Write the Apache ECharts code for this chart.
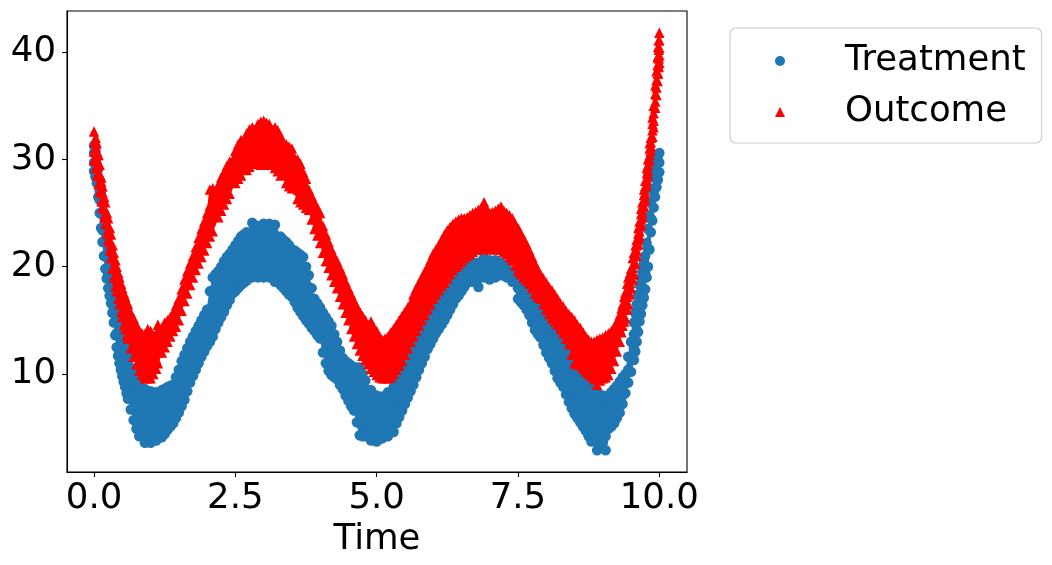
<!DOCTYPE html>
<html><head><meta charset="utf-8">
<style>html,body{margin:0;padding:0;background:#fff}#c{width:1052px;height:565px}</style>
<script src="https://cdn.jsdelivr.net/npm/echarts@6/dist/echarts.min.js"></script>
</head><body><div id="c"></div>
<script>
const xTicks = [0, 2.5, 5, 7.5, 10];
const yTicks = [10, 20, 30, 40];
const seriesNames = ['Treatment', 'Outcome'];
// each row: time, then the readings seen at that time
const treatmentRows = [
[0,28.9,29.7,30.6,31.3],[.05,27.8,28.6,29.5,30.2],[.1,25,26.2,27.1,28],[.15,22.3,23.4,24.8,26],[.2,19.8,21,22.4,24],
[.25,18,19.3,20.7,22],[.3,16.6,17.9,19.1,20],[.35,14.8,16,17.3,18.5],[.4,12.5,13.8,15.3,17],[.45,11,12.4,14,15.6],
[.5,9.8,11.1,12.9,14.5],[.55,8.8,10.1,11.9,13.5],[.6,7.7,9.1,10.8,12.5],[.7,5.7,6.8,8,9.3,10.5],[.8,4.2,5.3,6.4,7.6,8.3,9.2],
[.9,3.6,4.7,5.7,6.8,7.8,8.6],[1,3.6,4.4,5.3,6.3,7.4,8.4],[1.1,3.8,4.9,5.9,6.9,7.7,8.3],[1.2,4.1,5.2,6.1,7.1,7.9,8.5],[1.3,4.8,6,7.2,8,8.8],
[1.4,5.4,6.5,7.8,9],[1.5,6.4,7.6,9,10.4],[1.6,7.6,8.8,10.3,11.8],[1.7,9.2,10.5,12,13],[1.8,10.4,11.8,13,14],
[1.9,11.6,12.8,14,15],[2,12.6,13.8,15,16],[2.1,13.5,15,16.2,17.6,19],[2.2,14.8,16.1,17.3,18.6,19.6],[2.3,15.8,17,18.3,19.4,20.5],
[2.4,16.9,18,19.1,20.2,21.2],[2.5,17.7,18.9,20,21,22],[2.6,18.3,19.4,20.6,21.7,22.8],[2.7,18.7,19.9,21,22.1,23.2],[2.8,19,20.1,21.3,22.6,24.1],
[2.9,19,20.2,21.4,22.7,23.8],[3,19,20.1,21.3,22.6,24],[3.1,19,20.3,21.5,22.8,24],[3.2,18.6,19.8,21.1,22.5,23.9],[3.3,18.3,19.4,20.5,21.7,22.8],
[3.4,17.7,18.9,20,21.2,22.3],[3.5,17.2,18.4,19.5,20.5,21.6],[3.6,16.2,17.5,18.8,20,21.3],[3.7,15.4,16.8,18.1,19.6,20.9],[3.8,14.7,15.8,16.9,18.1,19.2],
[3.9,14,15,16,17],[4,13.3,14.2,15.2,16.2],[4.1,11,12.1,13.2,14.3,15.3],[4.2,9.9,11.1,12.2,13.4,14.5],[4.3,9.5,10.4,11.3,12.2,13],
[4.4,8.6,9.6,10.5,11.5],[4.5,7.5,8.4,9.3,10.2,11],[4.6,6.6,7.6,8.6,9.7,10.6],[4.7,4.3,5.4,6.6,7.7,8.9,10.6],[4.8,4.2,5.3,6.3,7.4,8.4,9.4],
[4.9,3.8,4.9,5.9,6.9,7.8,8.5],[5,3.7,4.6,5.5,6.4,7.3,8],[5.1,4,5,5.9,6.8,7.9],[5.2,4.2,5.1,6.2,7.2,8.3],[5.3,4.6,5.6,6.7,7.8,8.8],
[5.4,6,7,8,9,10],[5.5,7.2,8.1,9.1,10.1,11],[5.6,8.4,9.3,10.2,11.1,12],[5.7,9.7,10.5,11.4,12.2,13],[5.8,11,11.9,12.8,14],
[5.9,12.3,13.1,14,15],[6,13.3,14.4,15.5,16.5],[6.1,14.2,15.3,16.4,17.5],[6.2,15,16,17,18],[6.3,16,17,18,19],
[6.4,17,17.8,18.7,19.5],[6.5,17.7,18.5,19.3,20],[6.6,18.5,19.3,20.2],[6.7,18.6,19.5,20.4],[6.8,18.1,19.1,20.4],
[6.9,19,19.9,20.8],[7,18.8,19.7,20.6],[7.1,19,19.8,20.6],[7.2,19.2,20.4],[7.3,19,20],
[7.4,18.6,19.5],[7.5,17,18,19],[7.6,16.4,17.3,18.2],[7.7,15.5,16.6,17.8],[7.8,14.1,15.1,16.1,17],
[7.9,13.4,14.2,15.1,16],[8,12,13.1,14.3,15.5],[8.1,11,12.2,13.3,14.5],[8.2,9.6,10.7,11.8,12.8,13.8],[8.3,8.8,9.9,11,12,13],
[8.4,7.4,8.5,9.6,10.8,12],[8.5,6.3,7.4,8.4,9.5,10.5],[8.6,5.5,6.7,7.8,8.9,10],[8.7,4.7,5.8,6.9,8.2,9.5],[8.8,3.7,4.8,5.9,6.9,7.8,8.7],
[8.9,2.9,4,5,6.1,7.2,8.3],[9,3.6,4.6,5.6,6.7,8],[9.05,2.9,4.2,5.2,6.3,7.1,7.9],[9.1,4.9,5.9,7,8],[9.2,5.4,6.3,7.5,8.6],
[9.3,6.4,7.3,8.3,9.3],[9.35,7.2,8,8.9,9.7],[9.4,8.2,9.1,10],[9.45,9.2,10.4,11.6],[9.5,10.2,11.6,13],
[9.55,11.3,12.4,13.7,14.8],[9.6,13,14.1,15.4,16.5],[9.65,14.9,16.1,18.3],[9.7,16.4,18,19.6],[9.75,17.9,19.4,21],
[9.8,20,21.7,23.5],[9.85,23.2,24.5,26],[9.9,25.5,27,28.3],[9.95,27.4,28.7,30],[10,28.8,29.7,30.6]
];
// further edge readings (lowest, highest) between the columns above
const treatmentEdgeRows = [
[.025,28.4,30.8],[.075,26.5,29.1],[.125,23.6,27],[.175,21,25],[.225,18.9,23],[.275,17.3,21],[.325,15.7,19.2],[.375,13.6,17.7],[.425,11.7,16.3],[.475,10.4,15],[.525,9.3,14],[.575,8.2,13],
[.65,6.7,11.5],[.75,4.9,9.8],[1.25,4.4,8.6],[1.35,5.1,8.9],[1.45,5.9,9.7],[1.55,7,11.2],[1.65,8.4,12.4],[1.75,9.8,13.5],[1.85,11,14.5],[1.95,12.1,15.5],
[2.05,13,17.7],[2.15,14.2,19.3],[2.25,15.3,20],[2.35,16.4,20.9],[2.45,17.5,21.6],[2.55,18,22.4],[2.65,18.5,23],[3.35,18,22.5],[3.45,17.4,22],[3.55,16.7,21.5],[3.65,15.8,21.1],[3.75,15,20],[3.85,14.3,18],[3.95,13.6,16.6],
[4.05,12,15.7],[4.15,10.3,14.9],[4.25,9.7,13.7],[4.35,9,12.2],[4.45,8,11.2],[4.55,7,10.8],[4.65,5.5,10.6],[4.75,4.2,10],[5.35,5.4,9.4],[5.45,6.6,10.5],[5.55,7.8,11.5],[5.65,9,12.5],[5.75,10.4,13.5],[5.85,11.6,14.5],[5.95,12.8,15.8],
[6.05,13.8,17],[6.15,14.6,17.8],[6.25,15.5,18.5],[6.35,16.5,19.2],[6.45,17.3,19.8],[6.55,18.1,20.1],[7.55,16.7,18.6],[7.65,16,18],[7.75,14.8,17.4],[7.85,13.7,16.5],[7.95,12.7,15.8],
[8.05,11.5,15],[8.15,10.3,14.2],[8.25,9.2,13.4],[8.35,8.1,12.5],[8.45,6.8,11.2],[8.55,5.9,10.2],[8.65,5.1,9.8],[8.75,4.2,9.1],[9.15,5.1,8.3],[9.25,5.9,8.9],
[9.575,12.1,15.7],[9.625,13.9,17.4],[9.675,15.6,19],[9.725,17.1,20.3],[9.775,19,22.2],[9.825,21.6,24.7],[9.875,24.3,27.2],[9.925,26.5,29.1],[9.975,28.1,30.3]
];
const outcomeRows = [
[0,29.9,30.7,31.6,32.6],[.03,29.2,30.2,31.1,32],[.05,28.5,29.4,30.4,31.5],[.08,27.7,28.6,29.6,30.4],[.1,27,27.8,28.6,29.5],
[.13,26.1,26.9,27.9,28.3],[.15,25.5,26.2,26.9,27.5],[.18,24.6,25.4,26.5],[.2,24,24.9,26],[.23,23.1,24,25],
[.25,22.5,23.5,24.5],[.28,21.5,22.3,23.6],[.3,20.8,21.9,23],[.33,19.8,20.8,22],[.35,19,20.1,21.3],
[.38,18.2,19.3,20.6],[.4,17.7,18.8,20],[.43,17,18.1,19.4],[.45,16.5,17.7,19],[.48,15.8,17,18.4],
[.5,15.3,16.6,18],[.53,14.6,16.1,17.5],[.55,14.2,15.7,17.2],[.58,13.6,15.1,16.7],[.6,13.3,14.6,16.5],
[.65,12.4,13.6,14.8,15.7],[.7,11.6,12.7,13.9,15.2],[.75,10.9,11.9,13.2,14.6],[.8,10.3,11.2,12.1,13,14],[.85,9.9,10.8,11.8,12.8,13.8],
[.9,9.6,10.5,11.4,12.4,13.7],[.95,9.6,10.4,11.3,12.3,14.2],[1,9.6,10.6,11.6,12.7,14],[1.05,10,10.9,11.8,12.8,13.6],[1.1,10.5,11.4,12.4,13.8],
[1.13,11,12,13,14.6],[1.2,12,12.8,13.6,14.3],[1.25,12.5,13.3,14,14.8],[1.3,13,13.8,15],[1.35,13.5,14.5,15.3],
[1.4,14,14.9,15.7],[1.45,14.4,15.2,16.4],[1.5,15,16,17],[1.55,15.9,16.9,17.9],[1.6,16.8,17.8,18.8],
[1.65,17.5,18.5,19.6],[1.7,18.3,19.3,20.3],[1.75,19,20.1,21],[1.8,19.7,20.9,21.8],[1.85,20.3,21.7,22.7],
[1.9,20.9,22.4,23.5],[1.95,21.5,23,24.2],[2,22.2,23.7,25],[2.05,22.8,24.4,25.7,27.2],[2.1,23.3,25.1,26.2,27.3],
[2.2,24.6,26,26.8,27.6],[2.25,25.2,26.6,27.5,28.3],[2.3,25.8,27.1,28,28.8],[2.35,26.3,27.5,28.5,29.4],[2.4,26.8,27.9,28.9,29.8],
[2.5,27.8,28.7,29.7,30.8],[2.55,28.2,29.2,30.2,31.4],[2.6,28.5,29.4,30.6,31.8],[2.7,29,29.9,30.8,31.7,32.4],[2.75,29.3,30.2,31.1,32,32.8],
[2.8,29.6,30.4,31.2,32.1,33],[2.9,29.6,30.5,31.4,32.4,33.3],[2.95,29.5,30.4,31.4,32.5,33.5],[3,29.5,30.3,31.2,32.4,33.6],[3.05,29.6,30.5,31.5,32.4,33.4],
[3.1,29.5,30.4,31.3,32.3,33.3],[3.2,29.2,30.1,31,32,33],[3.25,28.9,29.8,30.8,31.8,32.7],[3.3,28.5,29.4,30.3,31.3,32.2],[3.4,27.8,28.7,29.7,30.6,31.4],
[3.45,27.5,28.5,29.4,30.3,31.2],[3.5,27.3,28.2,29.2,30.1,31],[3.6,26.3,27.2,28.1,29.1,30],[3.65,26,26.9,27.8,28.7,29.6],[3.7,25.8,26.6,27.6,28.8],
[3.75,25.5,26.4,27.3,28.2],[3.8,25.3,26.2,27.2],[3.85,24.4,25.3,26.6],[3.9,23.5,24.7,26],[3.95,22.9,24.1,25.5],
[4,22.2,23.6,25],[4.05,21.3,22.5,23.8],[4.1,20.5,21.7,23],[4.15,19.9,21.1,22.3],[4.2,19.2,20.4,21.6],
[4.25,18.6,19.8,21],[4.3,18,19.3,20.5],[4.35,17.2,18.5,19.9],[4.4,16.5,17.8,19.3],[4.45,15.7,17.1,18.6],
[4.5,15,16.5,18],[4.55,14.2,15.6,17.4],[4.6,13.5,14.8,16.8],[4.65,12.8,14.1,15.3,16.3],[4.7,12.2,13.4,14.6,15.8],
[4.75,11.7,12.9,14.2,15.4],[4.8,11.3,12.4,13.7,15],[4.85,10.9,12,13.2,14.6],[4.9,10.5,11.6,12.8,14.9],[4.95,10.2,11.2,12.3,13.4,14.3],
[5,9.9,10.9,11.9,13,14],[5.05,9.7,10.7,11.7,12.8,13.5],[5.1,9.6,10.5,11.5,12.4,13.2],[5.15,9.6,10.4,11.4,12.4,13.3],[5.2,9.6,10.6,11.6,12.6,13.5],
[5.25,9.7,10.7,11.8,12.9,13.9],[5.3,10,11,12,13.2,14.2],[5.35,10.4,11.4,12.5,13.6,14.6],[5.4,10.8,11.8,13,14,15],[5.45,11.2,12.3,13.4,14.5,15.4],
[5.5,11.8,12.8,14,15.8],[5.55,12.4,13.6,14.8,16.2],[5.6,13,14.2,15.4,16.6],[5.65,13.5,14.7,16,17.4],[5.7,14,15.3,16.6,18],
[5.75,14.5,15.8,17.1,18.5],[5.8,15,16.3,17.6,19],[5.85,15.5,16.8,18.1,19.5],[5.9,16,17.3,18.6,20],[5.95,16.5,17.8,19.2,20.6],
[6,17,18.4,19.8,21.2],[6.05,17.4,18.7,20.1,21.6],[6.1,17.8,19.2,20.6,22],[6.15,18.2,19.5,21,22.5],[6.2,18.5,19.9,21.4,23],
[6.25,18.9,20.1,21.4,22.5,23.4],[6.3,19.3,20.4,21.5,22.6,23.7],[6.35,19.7,20.7,21.8,23,24],[6.4,20,21.1,22.1,23.2,24.2],[6.45,20.2,21.2,22.3,23.4,24.4],
[6.5,20.5,21.5,22.5,23.6,24.5],[6.55,20.8,21.8,22.8,23.8,24.5],[6.6,21,22,23,24,24.6],[6.65,21.2,22.1,23,24,24.8],[6.7,21.4,22.3,23.2,24.2,25],
[6.75,21.6,22.4,23.4,24.4,25.1],[6.8,21.6,22.5,23.5,24.5,25.3],[6.85,21.8,22.7,23.6,24.6,25.5],[6.9,21.8,22.7,23.7,24.7,26],[6.95,21.7,22.6,23.6,24.5,25.3],
[7,21.6,22.5,23.4,24.3,25],[7.05,21.7,22.6,23.5,24.4,25.1],[7.1,21.7,22.6,23.6,24.5,25.2],[7.15,21.6,22.6,23.6,24.6,25.4],[7.2,21.6,22.5,23.5,24.6,25.6],
[7.25,21.4,22.4,23.4,24.3,25.2],[7.3,21.2,22.2,23.2,24.2,25],[7.35,20.9,21.9,22.9,23.9,24.8],[7.4,20.6,21.6,22.6,23.6,24.5],[7.45,20.1,21.1,22.1,23.1,24],
[7.5,19.6,20.6,21.6,22.6,23.6],[7.55,19.3,20.2,21.2,22.2,23.1],[7.6,19,20,21,22,22.6],[7.65,18.7,19.7,20.7,21.6,22.1],[7.7,18.4,19.3,20.2,21,21.5],
[7.75,18,18.9,19.8,20.9],[7.8,17.5,18.4,19.3,20.3],[7.85,17.2,18.2,19.7],[7.9,17,18,19.3],[7.95,16.5,17.6,18.9],
[8,16,17.2,18.5],[8.05,15.6,16.8,18.1],[8.1,15.2,16.5,17.8],[8.15,14.9,16,17.4],[8.2,14.6,15.7,17],[8.25,14.2,15.3,16.6],
[8.3,13.8,15,16.3],[8.35,13.3,14.5,15.9],[8.4,12.8,13.8,14.8,15.6],[8.45,11.8,12.9,14,15.3],[8.5,11,12.2,13.4,15],
[8.55,10.9,12,13.2,14.6],[8.6,10.8,11.8,13,14.3],[8.65,10.5,11.5,12.6,13.9],[8.7,10.2,11.2,12.4,13.5],[8.75,10,11,12.1,13.2],
[8.8,9.8,10.7,11.9,13],[8.85,9.5,10.6,11.8,13],[8.9,9,10.2,11.4,13.2],[8.95,9.4,10.4,11.6,13.3],[9,9.6,10.6,11.9,13.4],
[9.05,9.7,10.7,11.9,13.6],[9.1,9.9,11,12.4,13.8],[9.15,10.5,11.6,12.8,14],[9.2,11.2,12.3,13.4,14.3],[9.25,12.1,13.2,14.9],
[9.3,13,14.2,15.5],[9.33,13.9,15,16.1],[9.35,14.5,15.5,16.5],[9.38,14.9,16,17.2],[9.4,15.2,16.4,17.6],
[9.43,16,17.2,18.4],[9.45,16.5,17.7,19],[9.48,17.4,18.5,19.4],[9.5,18,18.9,19.8],[9.53,18.8,19.9,20.8],
[9.55,19.3,20.3,21.3],[9.58,20.3,21.2,22],[9.6,21,21.5,22,22.5],[9.63,22.1,22.6,23.1,23.6],[9.65,22.8,23.3,23.8,24.2],
[9.68,23.9,24.4,24.9,25.4],[9.7,24.6,25.1,25.6,26],[9.73,25.6,26.1,26.7,27.2],[9.75,26.3,26.9,27.5,28],[9.78,27.6,28.1,28.7,29.2],
[9.8,28.5,29,29.5,30],[9.83,29.9,30.4,31,31.5],[9.85,30.8,31.2,31.6,32],[9.88,32.1,32.7,33.3,33.9],[9.9,33,33.6,34.3,35],
[9.93,34.8,35.4,36.1,36.9],[9.95,36,36.7,37.4,38.2],[9.97,37.3,38,38.8,39.5],[9.98,38,38.8,39.6,40.5],[9.99,38.6,39.4,40.2,41.1],[10,39,39.7,40.4,41.1,41.8]
];
const treatmentAll = treatmentRows.concat(treatmentEdgeRows).sort((a,b)=>a[0]-b[0]);
const toPairs = rows => rows.flatMap(r => r.slice(1).map(v => [r[0], v]));
// The reference is so dense that its marks merge: the solid body between each column's lowest and highest reading
const bandSeries = (rows, color, z) => ({
  type:'custom', name:'body'+z, silent:true, z, clip:true, legendHoverLink:false,
  encode:{x:0,y:1}, data:rows.map(r => [r[0], r[1], r[r.length-1]]),
  renderItem:(params, api) => {
    if (params.dataIndex !== 0) return null;
    const upper = rows.map(r => api.coord([r[0], r[r.length-1]]));
    const lower = rows.map(r => api.coord([r[0], r[1]])).reverse();
    return {type:'polygon', shape:{points:upper.concat(lower)}, style:{fill:color, stroke:color, lineWidth:1}};
  }
});
const FONT = 'DejaVu Sans';
const SIZE = 35.5;
const chart = echarts.init(document.getElementById('c'), null, {renderer:'canvas'});
chart.setOption({
  animation:false,
  backgroundColor:'#fff',
  grid:{left:67,top:11,width:620,height:461,show:true,borderColor:'#000',borderWidth:1.1,containLabel:false},
  xAxis:{type:'value',min:-0.478,max:10.49,name:'Time',nameLocation:'middle',nameGap:50,
    nameTextStyle:{fontFamily:FONT,fontSize:SIZE,color:'#000'},
    axisLine:{show:true,onZero:false,lineStyle:{color:'#000',width:1.1}},
    axisTick:{show:true,length:5,lineStyle:{color:'#000',width:1.1},customValues:xTicks},
    axisLabel:{fontFamily:FONT,fontSize:SIZE,color:'#000',margin:9,customValues:xTicks,
      formatter:v=>v.toFixed(1),showMinLabel:true,showMaxLabel:true,hideOverlap:false},
    splitLine:{show:false}},
  yAxis:{type:'value',min:0.87,max:43.82,
    axisLine:{show:true,onZero:false,lineStyle:{color:'#000',width:1.1}},
    axisTick:{show:true,length:5,lineStyle:{color:'#000',width:1.1},customValues:yTicks},
    axisLabel:{fontFamily:FONT,fontSize:SIZE,color:'#000',margin:11,customValues:yTicks,formatter:v=>String(v)},
    splitLine:{show:false}},
  legend:{left:730,top:28,orient:'vertical',align:'left',
    data:[{name:seriesNames[0],icon:'circle'},{name:seriesNames[1],icon:'path://M0 10 L5 0 L10 10 Z'}],
    itemWidth:100,itemHeight:10,itemGap:11,padding:[13,16,11,45],symbolKeepAspect:true,
    backgroundColor:'#fff',borderColor:'#cccccc',borderWidth:1.1,borderRadius:6,
    selectedMode:false,
    textStyle:{fontFamily:FONT,fontSize:SIZE,color:'#000',lineHeight:40,padding:[0,0,0,10]}},
  series:[
    bandSeries(treatmentAll,'#1f77b4',1),
    {name:seriesNames[0],type:'scatter',symbol:'circle',symbolSize:10.5,itemStyle:{color:'#1f77b4',opacity:1},data:toPairs(treatmentAll),z:2},
    bandSeries(outcomeRows,'#ff0000',3),
    {name:seriesNames[1],type:'scatter',symbol:'triangle',symbolSize:10.5,itemStyle:{color:'#ff0000',opacity:1},data:toPairs(outcomeRows),z:4}
  ]
});
</script></body></html>
